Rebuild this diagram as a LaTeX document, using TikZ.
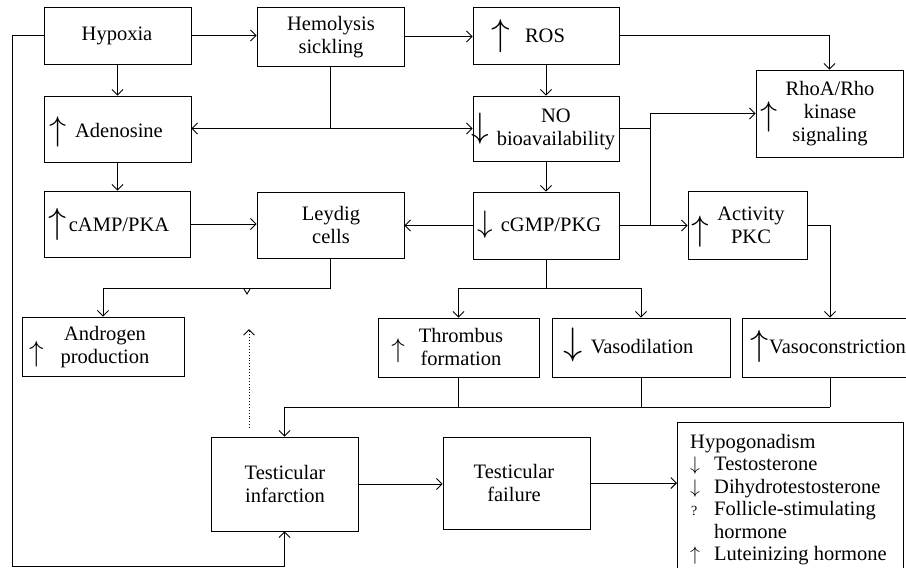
\documentclass[tikz,border=0pt]{standalone}
\usepackage{fontspec}
\usepackage{graphicx}
\setmainfont{Liberation Serif}
\usetikzlibrary{arrows.meta}
\newcommand\marr[2]{\scalebox{#1}{$#2$}}
\begin{document}
\begin{tikzpicture}[x=1pt,y=-1pt,
  box/.style={draw, line width=0.9pt, inner sep=0pt},
  txt/.style={font=\fontsize{20.5}{23}\selectfont, align=center, inner sep=0pt},
  sym/.style={font=\fontsize{20.5}{23}\selectfont, inner sep=0pt},
  conn/.style={line width=0.9pt},
  arr/.style={conn, -{Straight Barb[length=5.5pt,width=11pt,line width=0.9pt]}}]
\useasboundingbox (0,0) rectangle (906,568);
\fill[white] (0,0) rectangle (906,568);
% boxes
\node[box, minimum width=147pt, minimum height=57pt] (hyp) at (117.5,35.5) {};
\node[box, minimum width=147pt, minimum height=59pt] (hem) at (330.5,36.5) {};
\node[box, minimum width=146pt, minimum height=57pt] (ros) at (546,35.5) {};
\node[box, minimum width=147pt, minimum height=87pt] (rho) at (829.5,113.5) {};
\node[box, minimum width=146pt, minimum height=65pt] (no) at (546,128.5) {};
\node[box, minimum width=147pt, minimum height=66pt] (ade) at (117.5,129) {};
\node[box, minimum width=146pt, minimum height=66pt] (camp) at (117,224) {};
\node[box, minimum width=147pt, minimum height=66pt] (ley) at (330.5,225) {};
\node[box, minimum width=146pt, minimum height=67pt] (cgmp) at (546,225.5) {};
\node[box, minimum width=119pt, minimum height=68pt] (pkc) at (747.5,225) {};
\node[box, minimum width=162pt, minimum height=59pt] (andr) at (103,346.5) {};
\node[box, minimum width=161pt, minimum height=59pt] (thr) at (458.5,347.5) {};
\node[box, minimum width=178pt, minimum height=59pt] (vdil) at (641,347.5) {};
\node[box, minimum width=176pt, minimum height=59pt] (vcon) at (830,347.5) {};
\node[box, minimum width=147pt, minimum height=94pt] (tinf) at (284.5,484) {};
\node[box, minimum width=147pt, minimum height=92pt] (tfail) at (516.5,483) {};
\node[box, anchor=north west, minimum width=226pt, minimum height=180pt] (hypo) at (677,422) {};
% texts
\node[txt] (tHyp) at (117,36) {Hypoxia};
\node[txt] (tHem) at (331,37) {Hemolysis\\sickling};
\node[txt] (tROS) at (545,36) {ROS};
\node[sym] (aROS) at (501,36) {\marr{1.8}{\uparrow}};
\node[txt] (tRho) at (830,114) {RhoA/Rho\\kinase\\signaling};
\node[sym] (aRho) at (769,117) {\marr{1.65}{\uparrow}};
\node[txt] (tNO) at (556,129) {NO\\bioavailability};
\node[sym] (aNO) at (480,129) {\marr{1.7}{\downarrow}};
\node[txt] (tAde) at (119,130) {Adenosine};
\node[sym] (aAde) at (58,132) {\marr{1.65}{\uparrow}};
\node[txt] (tCamp) at (119,225) {cAMP/PKA};
\node[sym] (aCamp) at (58,224) {\marr{1.75}{\uparrow}};
\node[txt] (tLey) at (331,225) {Leydig\\cells};
\node[txt] (tCgmp) at (551,225) {cGMP/PKG};
\node[sym] (aCgmp) at (485,225) {\marr{1.5}{\downarrow}};
\node[txt] (tPkc) at (751,225) {Activity\\PKC};
\node[sym] (aPkc) at (700,232) {\marr{1.7}{\uparrow}};
\node[txt] (tAndr) at (105,347) {Androgen\\production};
\node[sym] (aAndr) at (37,354) {\marr{1.4}{\uparrow}};
\node[txt] (tThr) at (461,347) {Thrombus\\formation};
\node[sym] (aThr) at (398,351) {\marr{1.3}{\uparrow}};
\node[txt] (tVdil) at (642,347) {Vasodilation};
\node[sym] (aVdil) at (573,345) {\marr{1.85}{\downarrow}};
\node[txt, anchor=west] (tVcon) at (769,347) {Vasoconstriction};
\node[sym] (aVcon) at (760,346) {\marr{1.75}{\uparrow}};
\node[txt] (tTinf) at (285,484) {Testicular\\infarction};
\node[txt] (tTfail) at (514,483) {Testicular\\failure};
\node[anchor=base west, inner sep=0pt, font=\fontsize{20.5}{22.5}\selectfont] (tHypo) at (690,448)
 {\begin{tabular}[t]{@{}l@{}}Hypogonadism\\
 \makebox[24pt][l]{\marr{0.95}{\downarrow}}Testosterone\\
 \makebox[24pt][l]{\marr{0.95}{\downarrow}}Dihydrotestosterone\\
 \makebox[24pt][l]{\hspace{1pt}\fontsize{14}{14}\selectfont ?}Follicle-stimulating\\
 \makebox[24pt][l]{}hormone\\
 \makebox[24pt][l]{\marr{0.95}{\uparrow}}Luteinizing hormone\end{tabular}};
% coordinates
\coordinate (j1) at (330.5,128.5);
\coordinate (j3) at (650,113.5);
\coordinate (j4) at (546,288);
\coordinate (j5) at (103,288);
\coordinate (j6) at (830,407);
\coordinate (l1) at (12,566);
\coordinate (d1) at (249,428);
\coordinate (d2) at (249,329);
% connectors
\draw[arr] (hyp.east) -- (hyp.east -| hem.west);
\draw[arr] (hem.east) -- (hem.east -| ros.west);
\draw[arr] (ros.east) -| (rho.north);
\draw[arr] (hyp.south) -- (ade.north);
\draw[arr] (ros.south) -- (no.north);
\draw[conn] (hem.south) -- (j1);
\draw[arr] (j1) -- (j1 -| ade.east);
\draw[arr] (j1) -- (j1 -| no.west);
\draw[arr] (ade.south) -- (ade.south |- camp.north);
\draw[arr] (no.south) -- (cgmp.north);
\draw[conn] (no.east) -- (no.east -| j3);
\draw[conn] (cgmp.east -| j3) -- (j3);
\draw[arr] (j3) -- (j3 -| rho.west);
\draw[arr] (cgmp.east) -- (cgmp.east -| pkc.west);
\draw[arr] (camp.east) -- (camp.east -| ley.west);
\draw[arr] (cgmp.west) -- (cgmp.west -| ley.east);
\draw[arr] (pkc.east) -| (vcon.north);
\draw[conn] (cgmp.south) -- (j4);
\draw[arr] (j4) -| (thr.north);
\draw[arr] (j4) -| (vdil.north);
\draw[arr] (ley.south) |- (j5) -- (andr.north);
\draw[conn] (244,289) -- (247,294) -- (250,289);
\draw[arr, dotted] (d1) -- (d2);
\draw[conn] (vcon.south) -- (j6);
\draw[conn] (thr.south) -- (thr.south |- j6);
\draw[conn] (vdil.south) -- (vdil.south |- j6);
\draw[arr] (j6) -| (tinf.north);
\draw[arr] (tinf.east) -- (tinf.east -| tfail.west);
\draw[arr] (tfail.east) -- (tfail.east -| hypo.west);
\draw[arr] (hyp.west) -| (l1) -| (tinf.south);
\end{tikzpicture}
\end{document}
